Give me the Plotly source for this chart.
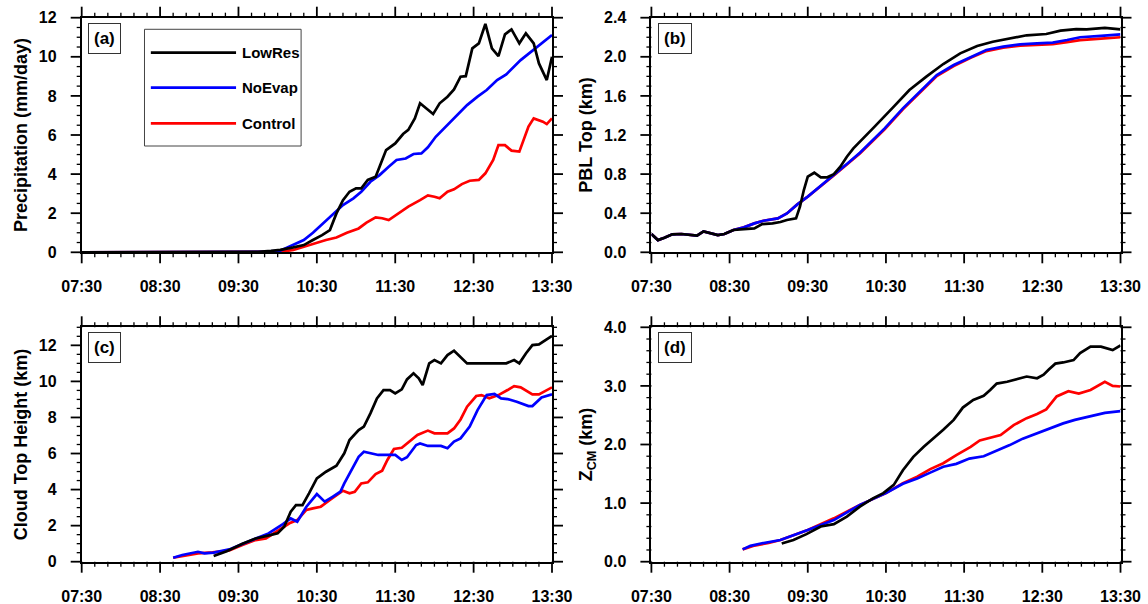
import numpy as np
import pandas as pd
import plotly.graph_objects as go

# ---------------- data ----------------
series_names = ["LowRes", "NoEvap", "Control"]
series_colors = ["#000000", "#0000FF", "#FF0000"]

# (a) Precipitation (mm/day)
a_lowres_t = ["07:30", "09:30", "09:45", "09:55", "10:02", "10:12", "10:20", "10:27", "10:34", "10:40",
              "10:45", "10:50", "10:55", "11:00", "11:04", "11:09", "11:15", "11:18", "11:23", "11:30",
              "11:36", "11:40", "11:45", "11:49", "11:54", "11:59", "12:04", "12:10", "12:15", "12:20",
              "12:24", "12:29", "12:34", "12:39", "12:44", "12:49", "12:54", "12:59", "13:05", "13:10",
              "13:16", "13:20", "13:26", "13:30"]
a_lowres_v = [0, 0, 0.02, 0.07, 0.12, 0.25, 0.37, 0.63, 0.88, 1.14,
              1.99, 2.67, 3.1, 3.27, 3.27, 3.7, 3.87, 4.38, 5.23, 5.57,
              6.05, 6.26, 6.85, 7.62, 7.36, 7.07, 7.62, 7.96, 8.33, 8.98,
              9.01, 10.43, 10.69, 11.68, 10.43, 10.04, 11.15, 11.4, 10.69, 11.2,
              10.69, 9.66, 8.81, 10.0]
a_noevap_t = ["07:30", "09:30", "09:40", "09:50", "10:02", "10:12", "10:20", "10:27", "10:35", "10:43",
              "10:50", "10:58", "11:04", "11:11", "11:18", "11:25", "11:31", "11:38", "11:44", "11:50",
              "11:55", "12:01", "12:10", "12:17", "12:25", "12:33", "12:40", "12:48", "12:55", "13:06",
              "13:17", "13:30"]
a_noevap_v = [0, 0, 0.01, 0.03, 0.08, 0.37, 0.63, 1.0, 1.48, 1.99,
              2.42, 2.76, 3.1, 3.61, 3.95, 4.38, 4.72, 4.8, 5.03, 5.06,
              5.37, 5.91, 6.51, 7.02, 7.53, 7.96, 8.3, 8.81, 9.1, 9.83,
              10.43, 11.11]
a_control_t = ["07:30", "09:40", "09:55", "10:02", "10:12", "10:22", "10:30", "10:37", "10:45", "10:53",
               "11:02", "11:08", "11:15", "11:20", "11:25", "11:31", "11:40", "11:49", "11:55", "12:00",
               "12:04", "12:10", "12:15", "12:21", "12:27", "12:34", "12:39", "12:45", "12:49", "12:54",
               "12:59", "13:05", "13:12", "13:16", "13:23", "13:26", "13:30"]
a_control_v = [0, 0, 0.0, 0.02, 0.12, 0.32, 0.51, 0.63, 0.76, 1.0,
               1.22, 1.52, 1.79, 1.74, 1.65, 1.91, 2.34, 2.67, 2.91, 2.84,
               2.76, 3.1, 3.22, 3.49, 3.66, 3.7, 4.04, 4.72, 5.48, 5.48,
               5.2, 5.15, 6.43, 6.85, 6.68, 6.56, 6.85]

# (b) PBL Top (km)
b_lowres_t = ["07:30", "07:35", "07:40", "07:46", "07:53", "08:00", "08:05", "08:10", "08:15", "08:21",
              "08:26", "08:33", "08:41", "08:49", "08:55", "09:03", "09:09", "09:14", "09:21", "09:24",
              "09:27", "09:30", "09:35", "09:40", "09:45", "09:50", "09:55", "10:00", "10:05", "10:10",
              "10:15", "10:20", "10:36", "10:48", "11:01", "11:14", "11:27", "11:40", "11:52", "12:05",
              "12:18", "12:33", "12:44", "12:56", "13:04", "13:18", "13:30"]
b_lowres_v = [0.187, 0.125, 0.15, 0.184, 0.187, 0.177, 0.17, 0.214, 0.20, 0.177,
              0.187, 0.228, 0.238, 0.245, 0.289, 0.296, 0.31, 0.33, 0.347, 0.466,
              0.637, 0.774, 0.814, 0.767, 0.767, 0.80, 0.876, 0.978, 1.063, 1.131,
              1.19, 1.268, 1.49, 1.66, 1.797, 1.926, 2.035, 2.11, 2.154, 2.19,
              2.22, 2.233, 2.267, 2.284, 2.28, 2.295, 2.28]
b_noevap_t = ["07:30", "07:35", "07:40", "07:46", "07:53", "08:00", "08:05", "08:10", "08:15", "08:21",
              "08:26", "08:33", "08:41", "08:49", "08:56", "09:07", "09:14", "09:22", "09:30", "09:40",
              "09:50", "10:00", "10:10", "10:20", "10:29", "10:43", "10:56", "11:09", "11:22", "11:35",
              "11:47", "12:00", "12:13", "12:26", "12:38", "12:49", "12:59", "13:15", "13:30"]
b_noevap_v = [0.187, 0.125, 0.15, 0.184, 0.187, 0.177, 0.17, 0.214, 0.20, 0.177,
              0.187, 0.228, 0.255, 0.296, 0.323, 0.347, 0.398, 0.49, 0.57, 0.678,
              0.79, 0.903, 1.019, 1.149, 1.268, 1.472, 1.643, 1.813, 1.916, 2.0,
              2.07, 2.104, 2.127, 2.138, 2.145, 2.172, 2.2, 2.215, 2.23]
b_control_t = b_noevap_t
b_control_v = [0.187, 0.125, 0.15, 0.184, 0.187, 0.177, 0.17, 0.214, 0.20, 0.177,
               0.187, 0.228, 0.255, 0.296, 0.323, 0.347, 0.398, 0.49, 0.57, 0.675,
               0.785, 0.898, 1.012, 1.14, 1.258, 1.462, 1.632, 1.802, 1.905, 1.99,
               2.058, 2.093, 2.115, 2.125, 2.13, 2.15, 2.17, 2.185, 2.2]

# (c) Cloud Top Height (km)
c_lowres_t = ["09:11", "09:21", "09:33", "09:43", "09:51", "10:00", "10:05", "10:10", "10:14", "10:19",
              "10:24", "10:30", "10:37", "10:45", "10:51", "10:55", "11:02", "11:06", "11:11", "11:16",
              "11:21", "11:26", "11:30", "11:35", "11:39", "11:44", "11:48", "11:51", "11:56", "12:00",
              "12:05", "12:10", "12:15", "12:20", "12:25", "12:55", "13:01", "13:05", "13:10", "13:15",
              "13:20", "13:30"]
c_lowres_v = [0.31, 0.58, 1.0, 1.29, 1.42, 1.57, 1.94, 2.77, 3.14, 3.14,
              3.79, 4.62, 4.99, 5.32, 6.01, 6.75, 7.3, 7.49, 8.23, 9.06,
              9.52, 9.52, 9.33, 9.56, 10.11, 10.45, 10.17, 9.8, 11.0, 11.18,
              11.0, 11.46, 11.7, 11.37, 11.0, 11.0, 11.18, 11.0, 11.55, 12.01,
              12.05, 12.53]
c_noevap_t = ["08:40", "08:47", "08:59", "09:04", "09:11", "09:18", "09:23", "09:33", "09:43", "09:53",
              "10:04", "10:10", "10:15", "10:22", "10:30", "10:36", "10:42", "10:48", "10:51", "10:57",
              "11:02", "11:06", "11:12", "11:17", "11:30", "11:35", "11:39", "11:46", "11:49", "11:55",
              "12:05", "12:10", "12:15", "12:20", "12:27", "12:33", "12:40", "12:46", "12:51", "12:56",
              "13:03", "13:12", "13:15", "13:22", "13:30"]
c_noevap_v = [0.22, 0.37, 0.55, 0.46, 0.5, 0.62, 0.68, 0.98, 1.29, 1.57,
              2.09, 2.4, 2.22, 3.05, 3.75, 3.33, 3.6, 3.88, 4.34, 5.18,
              5.82, 6.1, 6.01, 5.92, 5.92, 5.64, 5.79, 6.47, 6.56, 6.42,
              6.42, 6.29, 6.66, 6.84, 7.49, 8.41, 9.24, 9.3, 9.06, 9.02,
              8.87, 8.63, 8.63, 9.11, 9.28]
c_control_t = ["08:40", "08:59", "09:10", "09:18", "09:23", "09:33", "09:43", "09:51", "10:00", "10:09",
               "10:15", "10:22", "10:27", "10:33", "10:40", "10:45", "10:50", "10:55", "10:59", "11:04",
               "11:09", "11:15", "11:20", "11:24", "11:29", "11:35", "11:42", "11:47", "11:55", "12:00",
               "12:10", "12:15", "12:20", "12:25", "12:32", "12:36", "12:42", "12:49", "12:56", "13:01",
               "13:06", "13:15", "13:20", "13:30"]
c_control_v = [0.22, 0.46, 0.52, 0.6, 0.62, 0.92, 1.2, 1.29, 1.7, 2.13,
               2.31, 2.87, 2.96, 3.05, 3.42, 3.7, 3.94, 3.79, 3.88, 4.34,
               4.4, 4.86, 5.05, 5.64, 6.25, 6.32, 6.71, 7.03, 7.27, 7.12,
               7.12, 7.39, 7.89, 8.6, 9.19, 9.24, 9.06, 9.24, 9.52, 9.74,
               9.67, 9.28, 9.28, 9.67]

# (d) Z_CM (km)
d_lowres_t = ["09:10", "09:19", "09:29", "09:40", "09:50", "10:00", "10:10", "10:20", "10:28", "10:36",
              "10:43", "10:51", "10:59", "11:06", "11:14", "11:22", "11:29", "11:37", "11:45", "11:50",
              "11:55", "12:03", "12:10", "12:18", "12:26", "12:31", "12:35", "12:40", "12:46", "12:54",
              "12:59", "13:07", "13:15", "13:24", "13:30"]
d_lowres_v = [0.31, 0.37, 0.47, 0.6, 0.64, 0.77, 0.94, 1.08, 1.17, 1.31,
              1.56, 1.79, 1.96, 2.09, 2.25, 2.42, 2.63, 2.76, 2.83, 2.93,
              3.04, 3.07, 3.11, 3.16, 3.13, 3.19, 3.28, 3.38, 3.4, 3.44,
              3.56, 3.67, 3.67, 3.61, 3.69]
d_noevap_t = ["08:40", "08:46", "08:54", "09:02", "09:09", "09:30", "09:50", "10:10", "10:30", "10:43",
              "10:54", "11:04", "11:14", "11:24", "11:34", "11:45", "11:55", "12:05", "12:15", "12:26",
              "12:36", "12:46", "12:55", "13:10", "13:18", "13:30"]
d_noevap_v = [0.21, 0.27, 0.31, 0.34, 0.37, 0.54, 0.71, 0.97, 1.17, 1.33,
              1.42, 1.52, 1.62, 1.67, 1.76, 1.80, 1.89, 1.99, 2.1, 2.19,
              2.28, 2.36, 2.42, 2.5, 2.54, 2.57]
d_control_t = ["08:40", "08:48", "09:00", "09:09", "09:30", "09:50", "10:10", "10:30", "10:43", "10:54",
               "11:04", "11:14", "11:24", "11:35", "11:42", "11:50", "11:58", "12:08", "12:18", "12:26",
               "12:33", "12:41", "12:50", "12:58", "13:07", "13:18", "13:24", "13:30"]
d_control_v = [0.21, 0.27, 0.32, 0.37, 0.54, 0.74, 0.97, 1.17, 1.34, 1.45,
               1.58, 1.68, 1.82, 1.96, 2.07, 2.12, 2.16, 2.33, 2.45, 2.52,
               2.6, 2.82, 2.91, 2.87, 2.93, 3.07, 3.0, 2.99]

panel_labels = ["(a)", "(b)", "(c)", "(d)"]
y_titles = ["Precipitation (mm/day)", "PBL Top (km)", "Cloud Top Height (km)", "Z<sub>CM</sub> (km)"]
y_ranges = [[0, 12], [0, 2.4], [0, 13], [0, 4]]
y_dticks = [2, 0.4, 2, 1.0]
y_minor = [0.5, 0.1, 0.5, 0.2]
y_formats = ["d", ".1f", "d", ".1f"]
x_range = ["07:30", "13:30"]
x_minor_minutes = 10

panels = [
    [(a_lowres_t, a_lowres_v), (a_noevap_t, a_noevap_v), (a_control_t, a_control_v)],
    [(b_lowres_t, b_lowres_v), (b_noevap_t, b_noevap_v), (b_control_t, b_control_v)],
    [(c_lowres_t, c_lowres_v), (c_noevap_t, c_noevap_v), (c_control_t, c_control_v)],
    [(d_lowres_t, d_lowres_v), (d_noevap_t, d_noevap_v), (d_control_t, d_control_v)],
]


def tdate(lst):
    return ["2000-01-01 " + s for s in lst]


# ---------------- figure ----------------
W, H = 1148, 604
x_domains = [[81.7 / W, 552 / W], [651.4 / W, 1120.5 / W]]
y_domains = [[1 - 252.3 / H, 1 - 17.7 / H], [1 - 561.7 / H, 1 - 327.3 / H]]

MAJOR_LEN, MINOR_LEN = 11, 5
MAJOR_W, MINOR_W = 1.8, 1.3

fig = go.Figure()
FONT = "Liberation Sans, Arial, Helvetica, sans-serif"
shapes = []

t_start = pd.Timestamp("2000-01-01 " + x_range[0])
t_end = pd.Timestamp("2000-01-01 " + x_range[1])
x_tick_times = pd.date_range(t_start, t_end, freq=f"{x_minor_minutes}min")

for p in range(4):
    ax = "" if p == 0 else str(p + 1)
    # draw Control, NoEvap, LowRes (LowRes on top)
    for s in [2, 1, 0]:
        t, v = panels[p][s]
        fig.add_trace(go.Scatter(
            x=tdate(t), y=v, mode="lines", name=series_names[s],
            line=dict(color=series_colors[s], width=2.7),
            xaxis="x" + ax, yaxis="y" + ax, showlegend=False,
        ))
    col = p % 2
    row = p // 2
    xd, yd = x_domains[col], y_domains[row]

    xa = dict(
        domain=xd, anchor="y" + ax, type="date", automargin=False,
        range=tdate(x_range), tick0="2000-01-01 07:30", dtick=3600000,
        tickformat="%H:%M", ticks="",
        showline=True, linecolor="black", linewidth=1.8, mirror=True,
        showgrid=False, zeroline=False, ticklabelstandoff=19,
        tickfont=dict(family=FONT, size=16, color="black", weight="bold"),
    )
    ya = dict(
        domain=yd, anchor="x" + ax, range=y_ranges[p], automargin=False,
        tick0=0, dtick=y_dticks[p], tickformat=y_formats[p], ticks="",
        showline=True, linecolor="black", linewidth=1.8, mirror=True,
        showgrid=False, zeroline=False, ticklabelstandoff=20,
        tickfont=dict(family=FONT, size=16, color="black", weight="bold"),
        title=dict(text=y_titles[p], standoff=7,
                   font=dict(family=FONT, size=18, color="black", weight="bold")),
    )
    fig.update_layout(**{"xaxis" + ax: xa, "yaxis" + ax: ya})

    # outward tick marks on all four sides (major + minor), at the axes' tick values
    for tt in x_tick_times:
        major = tt.minute == 30
        frac = (tt - t_start) / (t_end - t_start)
        xp = xd[0] + frac * (xd[1] - xd[0])
        L = (MAJOR_LEN if major else MINOR_LEN) / H
        wdt = MAJOR_W if major else MINOR_W
        for y0, y1 in [(yd[0], yd[0] - L), (yd[1], yd[1] + L)]:
            shapes.append(dict(type="line", xref="paper", yref="paper",
                               x0=xp, x1=xp, y0=y0, y1=y1,
                               line=dict(color="black", width=wdt)))
    n_minor = int(round((y_ranges[p][1] - y_ranges[p][0]) / y_minor[p]))
    ratio = int(round(y_dticks[p] / y_minor[p]))
    for k in range(n_minor + 1):
        yv = y_ranges[p][0] + k * y_minor[p]
        major = (k % ratio == 0)
        frac = (yv - y_ranges[p][0]) / (y_ranges[p][1] - y_ranges[p][0])
        yp = yd[0] + frac * (yd[1] - yd[0])
        L = (MAJOR_LEN if major else MINOR_LEN) / W
        wdt = MAJOR_W if major else MINOR_W
        for x0, x1 in [(xd[0], xd[0] - L), (xd[1], xd[1] + L)]:
            shapes.append(dict(type="line", xref="paper", yref="paper",
                               x0=x0, x1=x1, y0=yp, y1=yp,
                               line=dict(color="black", width=wdt)))

    fig.add_annotation(
        text=panel_labels[p], xref=("x" + ax + " domain"), yref=("y" + ax + " domain"),
        x=0.0135, y=0.979, xanchor="left", yanchor="top", showarrow=False,
        font=dict(family=FONT, size=17, color="black", weight="bold"),
        bordercolor="#333333", borderwidth=1, borderpad=5, bgcolor="white",
    )

# manual legend in panel (a)
shapes.append(dict(type="rect", xref="x domain", yref="y domain",
                   x0=0.1335, x1=0.4665, y0=0.4531, y1=0.9506,
                   line=dict(color="#444444", width=1), fillcolor="rgba(0,0,0,0)"))
leg_y = [0.8508, 0.7016, 0.5499]
for s in range(3):
    shapes.append(dict(type="line", xref="x domain", yref="y domain",
                       x0=0.147, x1=0.3282, y0=leg_y[s], y1=leg_y[s],
                       line=dict(color=series_colors[s], width=2.7)))
    fig.add_annotation(text=series_names[s], xref="x domain", yref="y domain",
                       x=0.3359, y=leg_y[s], xanchor="left", yanchor="middle",
                       showarrow=False,
                       font=dict(family=FONT, size=15, color="black", weight="bold"))

fig.update_layout(
    width=W, height=H, margin=dict(l=0, r=0, t=0, b=0),
    paper_bgcolor="white", plot_bgcolor="white", showlegend=False,
    shapes=shapes,
)

fig.write_html("out.html", config={"displayModeBar": False},
               post_script="document.body.style.margin='0px';")
